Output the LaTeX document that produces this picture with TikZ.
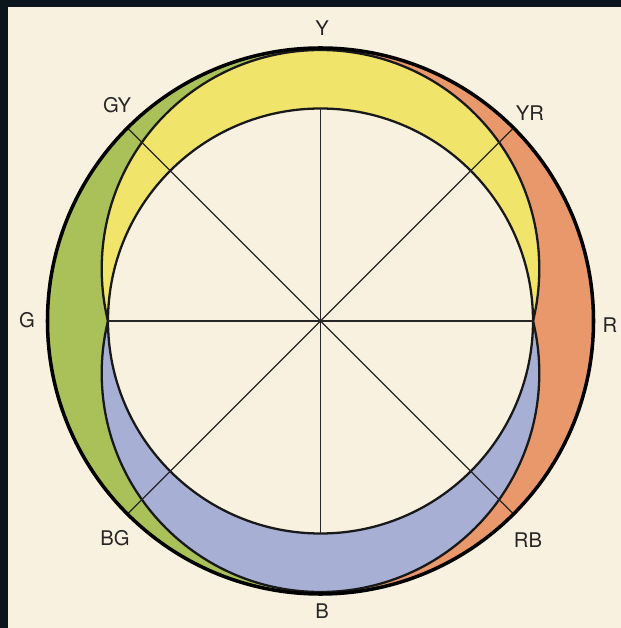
\documentclass[tikz,border=0pt]{standalone}
\usepackage{fontspec}
\setsansfont{TeX Gyre Heros}
\usepackage{tikz}
\usetikzlibrary{calc}
\definecolor{cpaper}{HTML}{F8F1E0}
\definecolor{cframe}{HTML}{0B151C}
\definecolor{cyel}{HTML}{F0E46A}
\definecolor{cgrn}{HTML}{A9C158}
\definecolor{corg}{HTML}{E9986B}
\definecolor{cblu}{HTML}{A7AFD5}
\tikzset{
  rim/.style={draw=black, line width=2pt},
  ring/.style={draw=black!90, line width=1.3pt},
  spoke/.style={draw=black!85, line width=0.7pt},
  lbl/.style={font=\sffamily\fontsize{11.5}{13}\selectfont, text=black!85, inner sep=1pt},
}

\begin{document}
\begin{tikzpicture}[x=1cm,y=1cm]
\useasboundingbox (-6.41,-6.14) rectangle (6.01,6.42);
\fill[cpaper] (-6.41,-6.14) rectangle (6.01,6.42);
\fill[cframe] (-6.41,-6.14) rectangle (-6.25,6.42);
\fill[cframe] (-6.41,6.28) rectangle (6.01,6.42);
% outer disc: green left, orange right
\coordinate (o) at (0,0);
\begin{scope}
  \clip (-6.5,-6.5) rectangle (0,6.5);
  \fill[cgrn] (o) circle (5.46);
\end{scope}
\begin{scope}
  \clip (0,-6.5) rectangle (6.5,6.5);
  \fill[corg] (o) circle (5.46);
\end{scope}
% the two shifted circles, then the plain centre
\coordinate (yc) at (0,1.044);
\coordinate (bc) at (0,-1.044);
\fill[cyel] (yc) circle (4.376);
\fill[cblu] (bc) circle (4.376);
\fill[cpaper] (o) circle (4.25);
% outlines
\begin{scope}
  \clip (-6.5,0) rectangle (6.5,6.5);
  \draw[ring] (yc) circle (4.376);
\end{scope}
\begin{scope}
  \clip (-6.5,-6.5) rectangle (6.5,0);
  \draw[ring] (bc) circle (4.376);
\end{scope}
\draw[ring] (o) circle (4.25);
\foreach \a in {0,90,180,270}
  \draw[spoke] (o) -- (\a:4.25);
\foreach \a in {45,135,225,315}
  \draw[spoke] (o) -- (\a:5.46);
\draw[rim] (o) circle (5.46);
% labels
\node[lbl] (ly) at (0.03,5.86) {Y};
\node[lbl] (lgy) at (-4.07,4.32) {GY};
\node[lbl] (lyr) at (4.19,4.16) {YR};
\node[lbl] (lg) at (-5.87,0.02) {G};
\node[lbl] (lr) at (5.79,-0.08) {R};
\node[lbl] (lbg) at (-4.11,-4.34) {BG};
\node[lbl] (lrb) at (4.15,-4.38) {RB};
\node[lbl] (lb) at (0.03,-5.8) {B};
\end{tikzpicture}
\end{document}
